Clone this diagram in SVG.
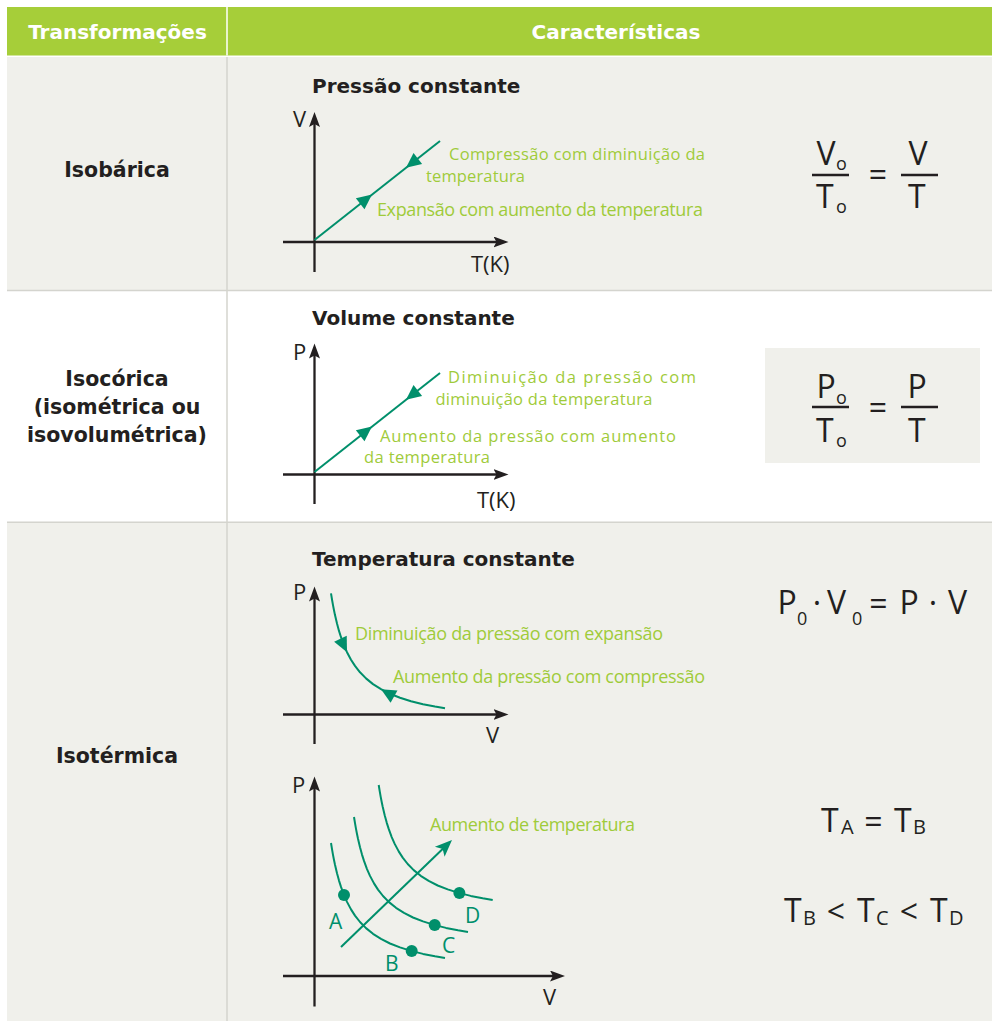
<svg xmlns="http://www.w3.org/2000/svg" xmlns:xlink="http://www.w3.org/1999/xlink" width="992" height="1021" viewBox="0 0 992 1021">
<style>
.hd{font-family:"DejaVu Sans",sans-serif;font-weight:bold;font-size:20px;fill:#ffffff;text-anchor:middle}
.rl{font-family:"DejaVu Sans",sans-serif;font-weight:bold;font-size:20.5px;fill:#231f20;text-anchor:middle}
.st{font-family:"DejaVu Sans",sans-serif;font-weight:bold;font-size:20px;fill:#231f20}
.ax{font-family:"Open Sans",sans-serif;font-size:22px;fill:#231f20}
.gl{font-family:"Open Sans",sans-serif;font-size:18px;fill:#9fcb3a}
.gl2{font-family:"Open Sans",sans-serif;font-size:16.5px;fill:#9fcb3a}
.fm{font-family:"Open Sans",sans-serif;font-size:32px;fill:#231f20}
.sb{font-family:"Open Sans",sans-serif;font-size:18px;fill:#231f20}
.sb2{font-family:"Open Sans",sans-serif;font-size:20px;fill:#231f20}
.mid{text-anchor:middle}
.pt{font-family:"Open Sans",sans-serif;font-size:21px;fill:#008f6b}
.axis{stroke:#231f20;stroke-width:2.3;fill:none;marker-end:url(#axArr)}
.frac{stroke:#231f20;stroke-width:2.3}
.tl{stroke:#008f6b;stroke-width:2;fill:none;stroke-linejoin:round}
.th{fill:#008f6b}
.dot{fill:#008f6b}
.grid{stroke:#d4d4ce;stroke-width:1.5}
</style>
<defs>
<marker id="axArr" markerWidth="16" markerHeight="12" refX="9" refY="5.5" orient="auto" markerUnits="userSpaceOnUse">
<path d="M0,0 L15,5.5 L0,11 L3,5.5 Z" fill="#231f20"/>
</marker>
<path id="tHead" d="M0,0 L-15,-7 L-15,7 Z"/>
<path id="hyp" d="M331,843 L332,849.2 L333,854.9 L334,860 L335,864.8 L337,873.3 L339,880.6 L341,886.9 L344,895.1 L347,901.9 L351,909.4 L355,915.6 L360,922 L366,928.1 L373,933.8 L381,938.9 L390,943.5 L400,947.4 L411,950.9 L423,953.9 L435,956.3 L445,958"/>
</defs>

<g id="table">
<rect x="7" y="7" width="985" height="48.5" fill="#a6ce39"/>
<rect x="7" y="57" width="985" height="233" fill="#f0f0eb"/>
<rect x="7" y="291" width="985" height="231" fill="#ffffff"/>
<rect x="7" y="523" width="985" height="498" fill="#f0f0eb"/>
<line x1="227" y1="7" x2="227" y2="55.5" stroke="#ffffff" stroke-width="1.5"/>
<line class="grid" x1="7" y1="290.5" x2="992" y2="290.5"/>
<line class="grid" x1="7" y1="522.3" x2="992" y2="522.3"/>
<line class="grid" x1="227" y1="57" x2="227" y2="1021"/>
<text class="hd" x="117.5" y="38.5">Transformações</text>
<text class="hd" x="616" y="38.5">Características</text>
</g>

<g id="row-isobarica">
<text class="rl" x="117" y="177">Isobárica</text>
<text class="st" x="312" y="93">Pressão constante</text>
<g id="graph1">
<line class="axis" x1="314.5" y1="272" x2="314.5" y2="118"/>
<line class="axis" x1="283" y1="242" x2="502.5" y2="242"/>
<text class="ax" x="293" y="127">V</text>
<text class="ax" x="471" y="272">T(K)</text>
<line class="tl" x1="314.5" y1="240" x2="440" y2="141"/>
<use href="#tHead" class="th" transform="translate(372,194.6) rotate(-38)"/>
<use href="#tHead" class="th" transform="translate(406,167.8) rotate(142)"/>
<text class="gl2" x="449" y="160" textLength="256">Compressão com diminuição da</text>
<text class="gl2" x="426" y="182" textLength="99">temperatura</text>
<text class="gl" x="377" y="216" textLength="326">Expansão com aumento da temperatura</text>
</g>
<g id="formula1">
<text class="fm" x="816.5" y="165">V</text>
<text class="sb" x="836" y="170">o</text>
<line class="frac" x1="812" y1="175" x2="849" y2="175"/>
<text class="fm" x="816" y="208">T</text>
<text class="sb" x="836" y="213">o</text>
<text class="fm mid" x="878" y="186">=</text>
<text class="fm" x="908.5" y="165">V</text>
<line class="frac" x1="901" y1="175" x2="938" y2="175"/>
<text class="fm" x="908" y="208">T</text>
</g>
</g>

<g id="row-isocorica">
<text class="rl" x="117" y="386">Isocórica</text>
<text class="rl" x="117" y="413.5">(isométrica ou</text>
<text class="rl" x="117" y="441.5">isovolumétrica)</text>
<text class="st" x="312" y="325">Volume constante</text>
<g id="graph2">
<line class="axis" x1="314.5" y1="504" x2="314.5" y2="349.5"/>
<line class="axis" x1="283" y1="474.5" x2="502.5" y2="474.5"/>
<text class="ax" x="293" y="359.5">P</text>
<text class="ax" x="477" y="508">T(K)</text>
<line class="tl" x1="314.5" y1="472" x2="440" y2="373"/>
<use href="#tHead" class="th" transform="translate(372,426.6) rotate(-38)"/>
<use href="#tHead" class="th" transform="translate(406,399.8) rotate(142)"/>
<text class="gl2" x="448" y="382.5" textLength="248">Diminuição da pressão com</text>
<text class="gl2" x="435.5" y="404.5" textLength="217">diminuição da temperatura</text>
<text class="gl2" x="380" y="441.5" textLength="296">Aumento da pressão com aumento</text>
<text class="gl2" x="364" y="462.5" textLength="126">da temperatura</text>
</g>
<g id="formula2">
<rect x="765" y="348" width="215" height="115" fill="#f0f0eb"/>
<text class="fm" x="816.5" y="398">P</text>
<text class="sb" x="836" y="404">o</text>
<line class="frac" x1="812" y1="407" x2="849" y2="407"/>
<text class="fm" x="816" y="442">T</text>
<text class="sb" x="836" y="447">o</text>
<text class="fm mid" x="878" y="418.5">=</text>
<text class="fm" x="907.5" y="398">P</text>
<line class="frac" x1="901" y1="407" x2="938" y2="407"/>
<text class="fm" x="908" y="442">T</text>
</g>
</g>

<g id="row-isotermica">
<text class="rl" x="117" y="763">Isotérmica</text>
<text class="st" x="312" y="565.5">Temperatura constante</text>
<g id="graph3">
<line class="axis" x1="314.5" y1="744" x2="314.5" y2="592.5"/>
<line class="axis" x1="283" y1="714.5" x2="502.5" y2="714.5"/>
<text class="ax" x="293" y="599.5">P</text>
<text class="ax" x="486" y="743">V</text>
<use href="#hyp" class="tl" transform="translate(0,-249.7)"/>
<use href="#tHead" class="th" transform="translate(347,652.2) rotate(64)"/>
<use href="#tHead" class="th" transform="translate(381,689.2) rotate(209.6)"/>
<text class="gl" x="355" y="640" textLength="308">Diminuição da pressão com expansão</text>
<text class="gl" x="393" y="683" textLength="312">Aumento da pressão com compressão</text>
</g>
<g id="formula3">
<text class="fm" x="777.5" y="614">P</text>
<text class="sb" x="797" y="625">0</text>
<text class="fm mid" x="817" y="614">·</text>
<text class="fm" x="827" y="614">V</text>
<text class="sb" x="852" y="625">0</text>
<text class="fm mid" x="878.5" y="614.5">=</text>
<text class="fm" x="899.5" y="614">P</text>
<text class="fm mid" x="933" y="614">·</text>
<text class="fm" x="948" y="614">V</text>
</g>
<g id="graph4">
<line class="axis" x1="314.5" y1="1006.5" x2="314.5" y2="782.5"/>
<line class="axis" x1="283" y1="976" x2="559" y2="976"/>
<text class="ax" x="292" y="793">P</text>
<text class="ax" x="543" y="1005">V</text>
<use href="#hyp" class="tl"/>
<use href="#hyp" class="tl" transform="translate(23,-26)"/>
<use href="#hyp" class="tl" transform="translate(47.7,-58)"/>
<line class="tl" x1="341" y1="947" x2="446" y2="845.8"/>
<path class="th" d="M0,0 L-17,-7 L-13,0 L-17,7 Z" transform="translate(452,840) rotate(-43.9)"/>
<circle class="dot" cx="344" cy="895.1" r="6"/>
<circle class="dot" cx="411.7" cy="951" r="6"/>
<circle class="dot" cx="434.7" cy="925" r="6"/>
<circle class="dot" cx="459.4" cy="893" r="6"/>
<text class="pt" x="329" y="928.5">A</text>
<text class="pt" x="385" y="971">B</text>
<text class="pt" x="442" y="952.5">C</text>
<text class="pt" x="465" y="923">D</text>
<text class="gl" x="430" y="831" textLength="205">Aumento de temperatura</text>
</g>
<g id="formula4">
<text class="fm" x="821" y="832">T</text>
<text class="sb2" x="841" y="834">A</text>
<text class="fm mid" x="873.5" y="832.5">=</text>
<text class="fm" x="894" y="832">T</text>
<text class="sb2" x="913" y="834">B</text>
<text class="fm" x="784" y="922">T</text>
<text class="sb2" x="803" y="925">B</text>
<text class="fm mid" x="836" y="922.5">&lt;</text>
<text class="fm" x="857" y="922">T</text>
<text class="sb2" x="876" y="925">C</text>
<text class="fm mid" x="909" y="922.5">&lt;</text>
<text class="fm" x="930" y="922">T</text>
<text class="sb2" x="949" y="925">D</text>
</g>
</g>
</svg>
